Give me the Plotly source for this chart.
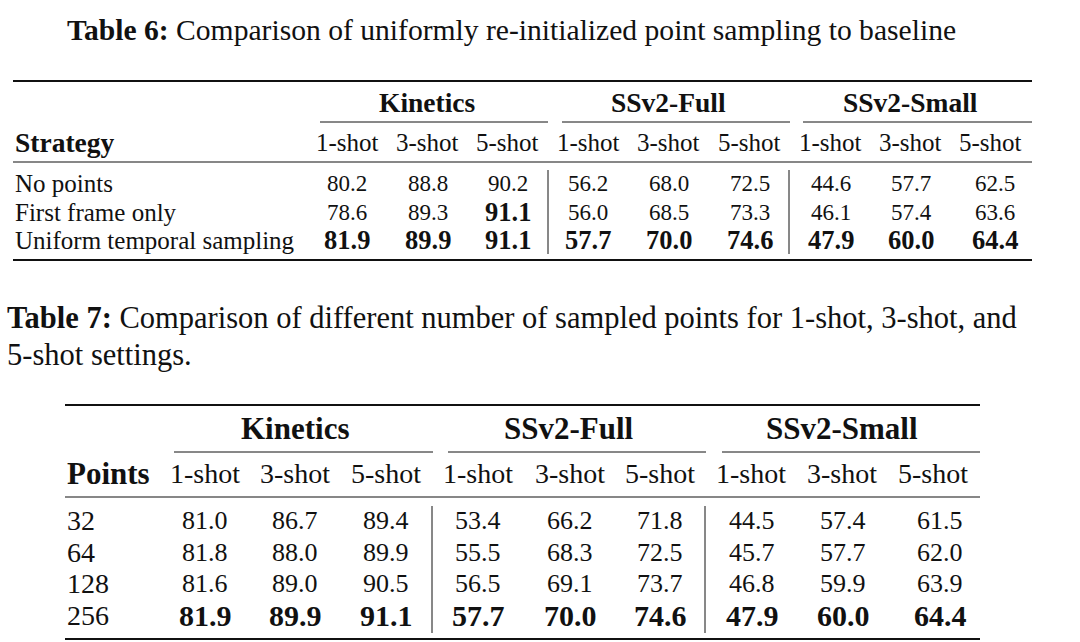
import plotly.graph_objects as go

# ---------------- data ----------------
groups = ["Kinetics", "SSv2-Full", "SSv2-Small"]
shots = ["1-shot", "3-shot", "5-shot"]

t6_title_bold = "Table 6:"
t6_title_rest = " Comparison of uniformly re-initialized point sampling to baseline"
t6_row_header = "Strategy"
t6_rows = ["No points", "First frame only", "Uniform temporal sampling"]
t6_values = [
    [80.2, 88.8, 90.2, 56.2, 68.0, 72.5, 44.6, 57.7, 62.5],
    [78.6, 89.3, 91.1, 56.0, 68.5, 73.3, 46.1, 57.4, 63.6],
    [81.9, 89.9, 91.1, 57.7, 70.0, 74.6, 47.9, 60.0, 64.4],
]
t6_bold = [
    [0, 0, 0, 0, 0, 0, 0, 0, 0],
    [0, 0, 1, 0, 0, 0, 0, 0, 0],
    [1, 1, 1, 1, 1, 1, 1, 1, 1],
]

t7_caption_bold = "Table 7:"
t7_caption_line1 = " Comparison of different number of sampled points for 1-shot, 3-shot, and"
t7_caption_line2 = "5-shot settings."
t7_row_header = "Points"
t7_rows = ["32", "64", "128", "256"]
t7_values = [
    [81.0, 86.7, 89.4, 53.4, 66.2, 71.8, 44.5, 57.4, 61.5],
    [81.8, 88.0, 89.9, 55.5, 68.3, 72.5, 45.7, 57.7, 62.0],
    [81.6, 89.0, 90.5, 56.5, 69.1, 73.7, 46.8, 59.9, 63.9],
    [81.9, 89.9, 91.1, 57.7, 70.0, 74.6, 47.9, 60.0, 64.4],
]
t7_bold = [
    [0] * 9,
    [0] * 9,
    [0] * 9,
    [1] * 9,
]

# ---------------- layout / style ----------------
W, H = 1080, 642
FONT = "Liberation Serif"
INK = "#111111"

annotations = []
shapes = []


def txt(x, y, s, size, anchor="center", bold=False):
    annotations.append(dict(
        x=x, y=y, xref="x", yref="y", text=(f"<b>{s}</b>" if bold else s),
        showarrow=False, xanchor=anchor, yanchor="middle",
        font=dict(family=FONT, size=size, color=INK),
    ))


def hline(x0, x1, y, w):
    shapes.append(dict(type="line", xref="x", yref="y", x0=x0, x1=x1, y0=y, y1=y,
                       line=dict(color=INK, width=w)))


def vline(x, y0, y1, w=1):
    shapes.append(dict(type="line", xref="x", yref="y", x0=x, x1=x, y0=y0, y1=y1,
                       line=dict(color=INK, width=w)))


def build_table(spec, row_header, rows, values, bold):
    left, right = spec["left"], spec["right"]
    cols = spec["cols"]
    fs_txt, fs_btxt, fs_num, fs_bnum = spec["fs_txt"], spec["fs_btxt"], spec["fs_num"], spec["fs_bnum"]
    hline(left, right, spec["y_top"], 2)
    for g, name in enumerate(groups):
        gx = sum(spec["head_cols"][3 * g:3 * g + 3]) / 3
        txt(gx, spec["y_group"], name, fs_btxt, bold=True)
        a, b = spec["cmid"][g]
        hline(a, b, spec["y_cmid"], 1)
    txt(left, spec["y_head"], row_header, fs_btxt, anchor="left", bold=True)
    for i in range(len(cols)):
        txt(spec["head_cols"][i], spec["y_head"], shots[i % 3], fs_txt)
    hline(left, right, spec["y_mid"], 1.2)
    for r, name in enumerate(rows):
        y = spec["y_rows"][r]
        txt(left, y, name, fs_txt, anchor="left")
        for c, v in enumerate(values[r]):
            b = bool(bold[r][c])
            txt(cols[c], y, f"{v:.1f}", fs_bnum if b else fs_num, bold=b)
    for vx in spec["vlines"]:
        vline(vx, spec["v_y0"], spec["v_y1"])
    hline(left, right, spec["y_bot"], 2)


t6_spec = dict(
    left=13, right=1032,
    cols=[347, 427.5, 507.5, 588, 668.5, 749.5, 830.5, 911, 995],
    head_cols=[347, 427.5, 507.5, 588, 668.5, 749.5, 830.5, 910, 990],
    fs_txt=25, fs_btxt=27.5, fs_num=23, fs_bnum=26.5,
    y_top=81, y_group=102, y_cmid=122, y_head=142, y_mid=162,
    y_rows=[183, 212, 240], y_bot=260,
    cmid=[(320, 548), (562, 790), (803, 1032)],
    vlines=[548, 789], v_y0=170, v_y1=254,
)

t7_spec = dict(
    left=65, right=980,
    cols=[205, 295, 386, 478, 570, 660, 752, 843, 940],
    head_cols=[205, 295, 386, 478, 570, 660, 751, 842, 933],
    fs_txt=28, fs_btxt=31, fs_num=26, fs_bnum=30,
    y_top=405, y_group=428, y_cmid=452, y_head=473, y_mid=497,
    y_rows=[520, 552, 583, 615], y_bot=639,
    cmid=[(174, 433), (448, 706), (722, 980)],
    vlines=[432, 705], v_y0=506, v_y1=633,
)

# captions
annotations.append(dict(
    x=511, y=30, xref="x", yref="y", showarrow=False, xanchor="center", yanchor="middle",
    text=f"<b>{t6_title_bold}</b>{t6_title_rest}",
    font=dict(family=FONT, size=29.6, color=INK),
))
annotations.append(dict(
    x=5, y=318, xref="x", yref="y", showarrow=False, xanchor="left", yanchor="middle",
    text=f"<b>{t7_caption_bold}</b>{t7_caption_line1}",
    font=dict(family=FONT, size=30.5, color=INK),
))
annotations.append(dict(
    x=5, y=355, xref="x", yref="y", showarrow=False, xanchor="left", yanchor="middle",
    text=t7_caption_line2,
    font=dict(family=FONT, size=30.5, color=INK),
))

build_table(t6_spec, t6_row_header, t6_rows, t6_values, t6_bold)
build_table(t7_spec, t7_row_header, t7_rows, t7_values, t7_bold)

fig = go.Figure()
fig.add_trace(go.Scatter(x=[0, W], y=[0, H], mode="markers", marker=dict(opacity=0),
                         hoverinfo="skip", showlegend=False))
fig.update_layout(
    width=W, height=H, margin=dict(l=0, r=0, t=0, b=0),
    paper_bgcolor="white", plot_bgcolor="white",
    xaxis=dict(range=[0, W], visible=False, fixedrange=True),
    yaxis=dict(range=[H, 0], visible=False, fixedrange=True),
    annotations=annotations, shapes=shapes, showlegend=False,
)
fig.write_html(
    "out.html",
    config={"displayModeBar": False},
    post_script="document.body.style.margin='0px';document.body.style.overflow='hidden';",
)
